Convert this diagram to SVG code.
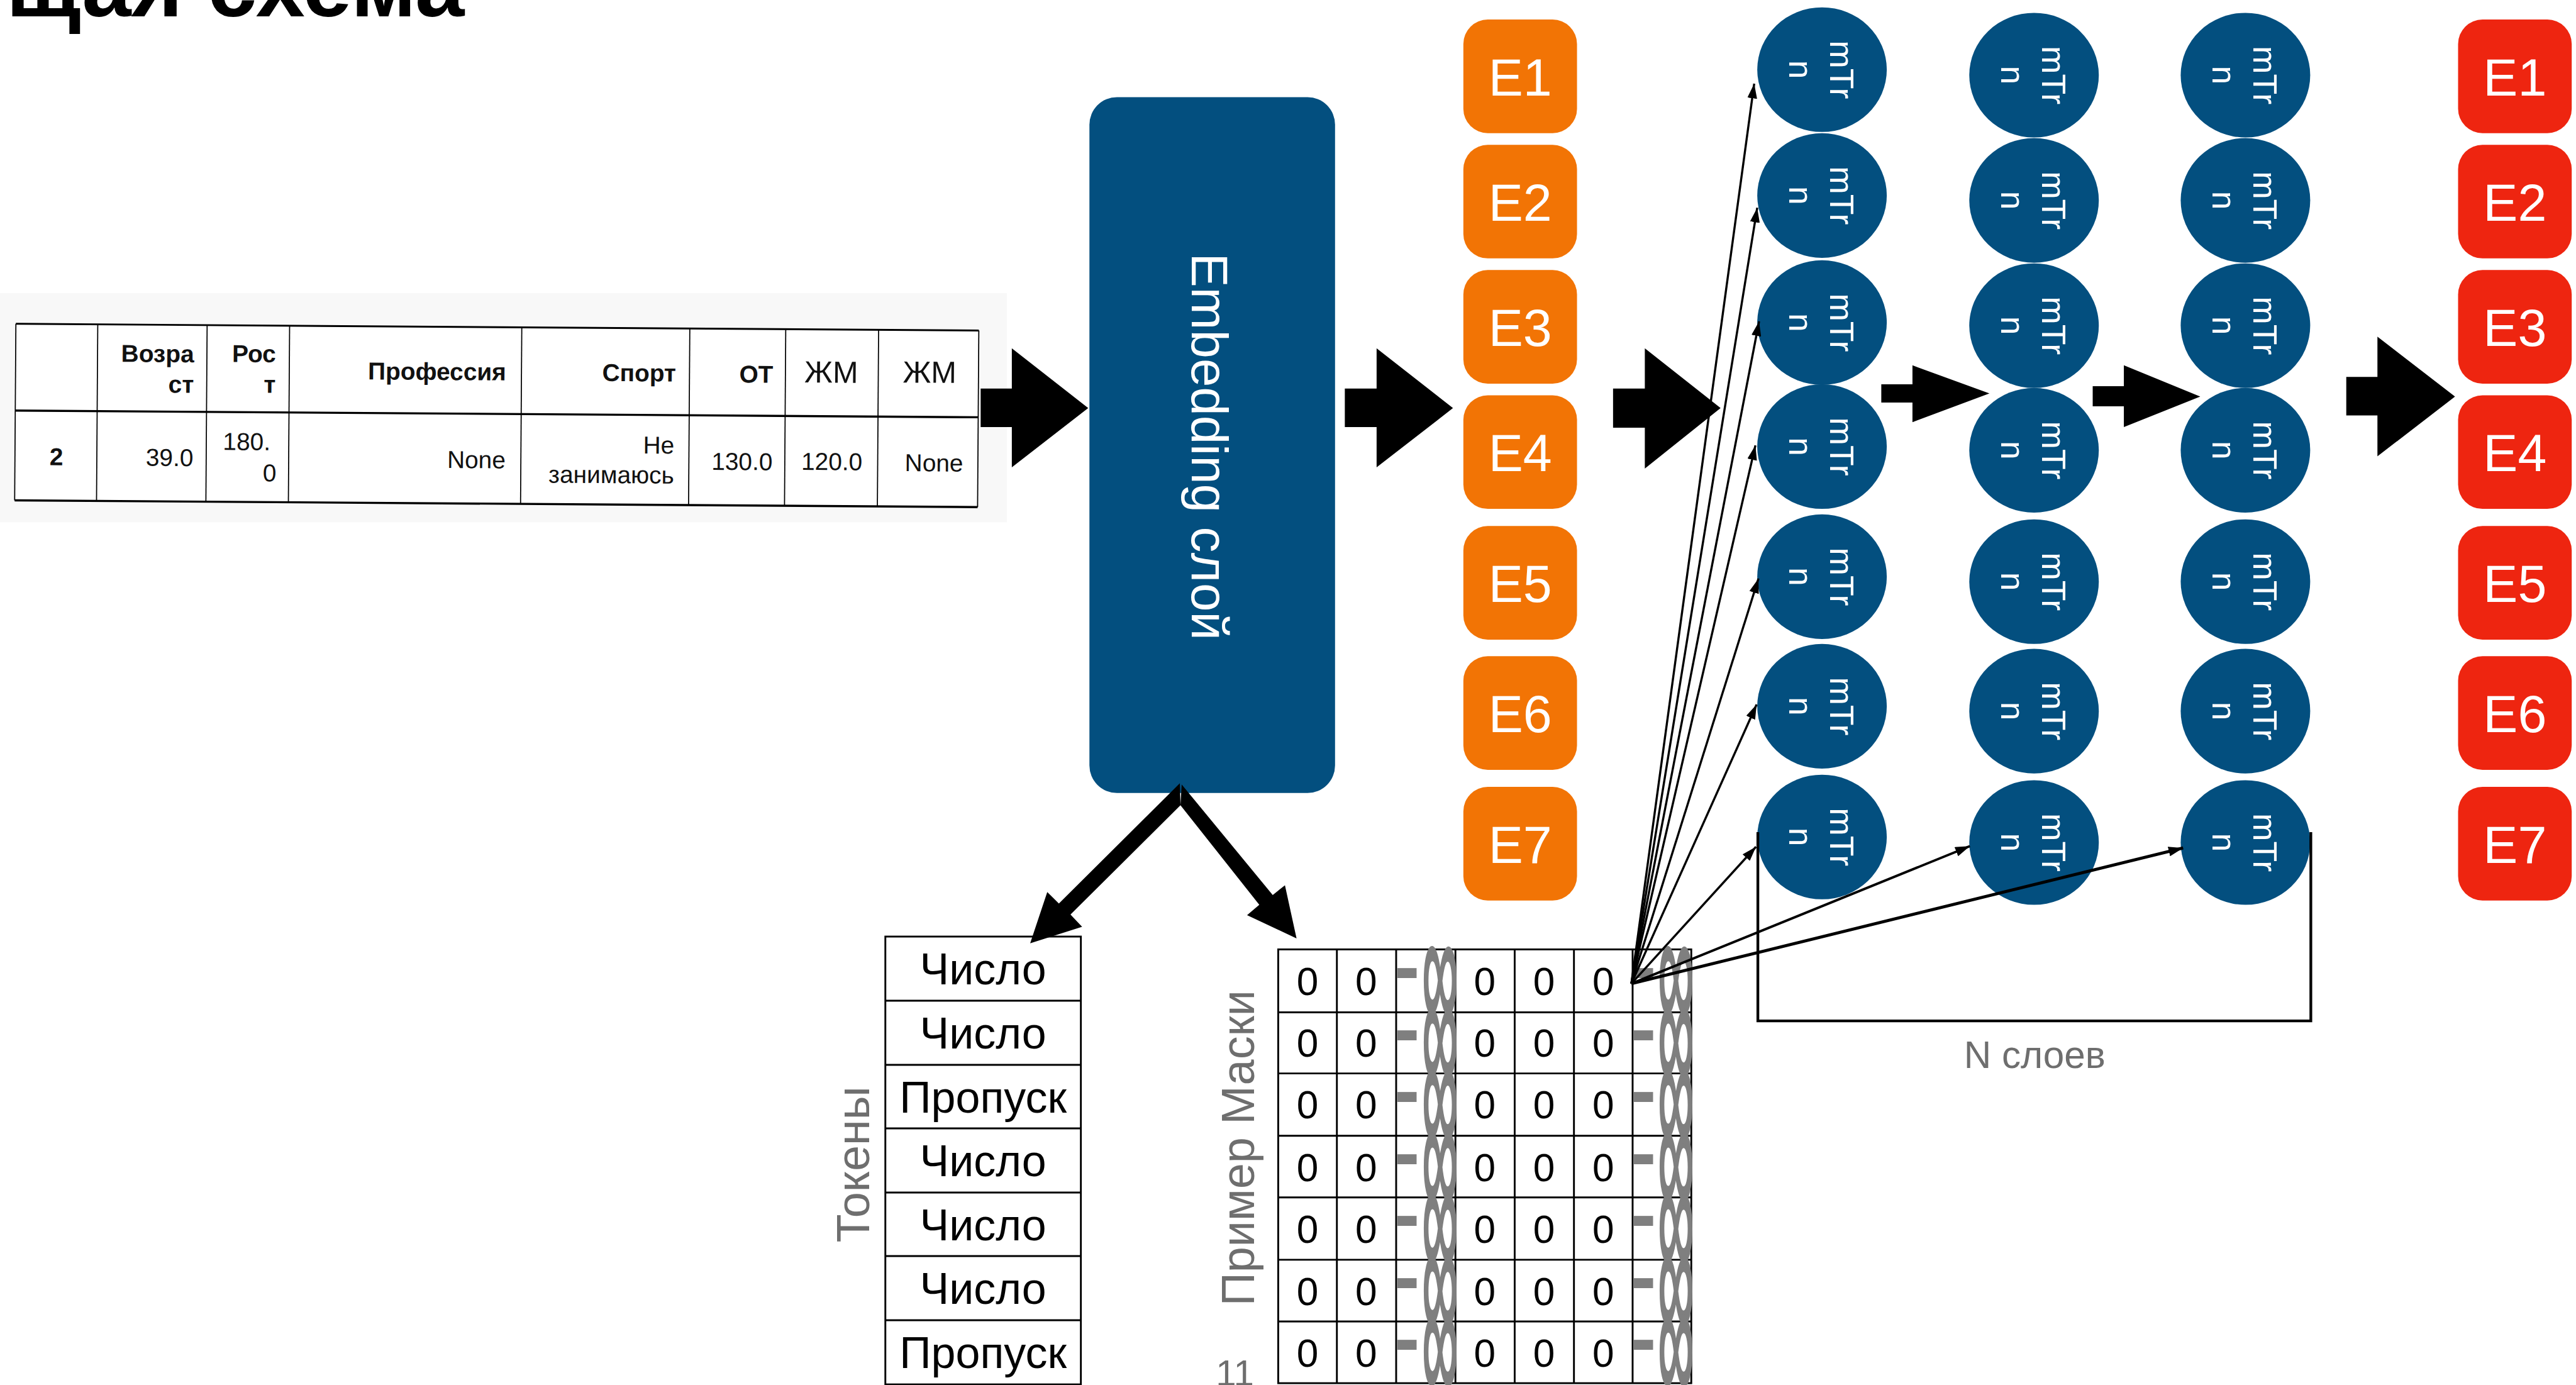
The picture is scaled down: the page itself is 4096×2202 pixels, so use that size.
<svg xmlns="http://www.w3.org/2000/svg" width="4096" height="2202" viewBox="0 0 4096 2202">
<style>
  .sans { font-family: "Liberation Sans", Arial, sans-serif; }
  .title { font-family: "Liberation Sans", Arial, sans-serif; font-weight: bold; font-size: 145px; fill: #000; }
  .th { font-family: "Liberation Sans", Arial, sans-serif; font-weight: bold; font-size: 40px; fill: #111; text-anchor: end; }
  .th2 { font-family: "Liberation Sans", Arial, sans-serif; font-size: 50px; fill: #111; text-anchor: end; }
  .td { font-family: "Liberation Sans", Arial, sans-serif; font-size: 40px; fill: #111; text-anchor: end; }
  .grid { stroke: #000; fill: none; }
  .blue { fill: #034F7F; }
  .orange { fill: #F27405; }
  .red { fill: #EE2510; }
  .etxt { font-family: "Liberation Sans", Arial, sans-serif; font-size: 85px; fill: #fff; text-anchor: middle; }
  .tr { font-family: "Liberation Sans", Arial, sans-serif; font-size: 55px; fill: #fff; text-anchor: middle; }
  .tok { font-family: "Liberation Sans", Arial, sans-serif; font-size: 72px; fill: #000; text-anchor: middle; }
  .zero { font-family: "Liberation Sans", Arial, sans-serif; font-size: 64px; fill: #000; text-anchor: middle; }
  .dash { font-family: "Liberation Sans", Arial, sans-serif; font-size: 130px; fill: #7F7F7F; }
  .inf { font-family: "Liberation Sans", Arial, sans-serif; font-size: 100px; fill: #7F7F7F; stroke: #7F7F7F; stroke-width: 2.5px; text-anchor: middle; }
  .gray { font-family: "Liberation Sans", Arial, sans-serif; fill: #6E6E6E; }
  .block { fill: #000; }
  .link { stroke: #000; fill: none; marker-end: url(#tip); }
</style>
<defs>
  <marker id="tip" viewBox="0 0 10 10" refX="10" refY="5" markerWidth="24" markerHeight="16" markerUnits="userSpaceOnUse" orient="auto" preserveAspectRatio="none">
    <path d="M0,0 L10,5 L0,10 z" fill="#000"/>
  </marker>
</defs>
<rect x="0" y="0" width="4096" height="2202" fill="#fff"/>
<g transform="scale(0.97154 0.97133)">

  <!-- heading, partly outside the top edge -->
  <text id="title" class="title" x="10" y="27">щая схема</text>

  <!-- source record table (screenshot, slightly tilted) -->
  <g id="source-table">
    <rect x="0" y="480" width="1648" height="375" fill="#F8F8F8"/>
    <g transform="rotate(0.4 26 530)">
      <rect x="26" y="530" width="1576" height="289" fill="#fff"/>
      <line class="grid" x1="26" y1="530" x2="1602" y2="530" stroke-width="3"/>
      <line class="grid" x1="26" y1="672" x2="1602" y2="672" stroke-width="3.5"/>
      <line class="grid" x1="26" y1="819" x2="1602" y2="819" stroke-width="3.5"/>
      <g class="grid" stroke-width="1.8">
        <line x1="26" y1="530" x2="26" y2="819"/>
        <line x1="160" y1="530" x2="160" y2="819"/>
        <line x1="339" y1="530" x2="339" y2="819"/>
        <line x1="474" y1="530" x2="474" y2="819"/>
        <line x1="854" y1="530" x2="854" y2="819"/>
        <line x1="1129" y1="530" x2="1129" y2="819"/>
        <line x1="1286" y1="530" x2="1286" y2="819"/>
        <line x1="1438" y1="530" x2="1438" y2="819"/>
        <line x1="1602" y1="530" x2="1602" y2="819"/>
      </g>
      <text class="th" x="318" y="591">Возра</text>
      <text class="th" x="318" y="641">ст</text>
      <text class="th" x="452" y="590">Рос</text>
      <text class="th" x="452" y="640">т</text>
      <text class="th" x="829" y="617">Профессия</text>
      <text class="th" x="1107" y="617">Спорт</text>
      <text class="th" x="1266" y="618">ОТ</text>
      <text class="th2" x="1405" y="617">ЖМ</text>
      <text class="th2" x="1566" y="616">ЖМ</text>
      <text class="th" x="105" y="761">2</text>
      <text class="td" x="318" y="761">39.0</text>
      <text class="td" x="444" y="734">180.</text>
      <text class="td" x="454" y="785">0</text>
      <text class="td" x="829" y="761">None</text>
      <text class="td" x="1105" y="735">Не</text>
      <text class="td" x="1105" y="784">занимаюсь</text>
      <text class="td" x="1266" y="761">130.0</text>
      <text class="td" x="1413" y="760">120.0</text>
      <text class="td" x="1578" y="761">None</text>
    </g>
  </g>

  <!-- embedding layer -->
  <g id="embedding">
    <rect class="blue" x="1783" y="159" width="402" height="1139" rx="45" ry="45"/>
    <text class="sans" x="1984" y="764" font-size="84" fill="#fff" text-anchor="middle" transform="rotate(90 1984 731)">Embedding слой</text>
  </g>

  <!-- input embeddings -->
  <g id="emb-in">
    <g id="e-in-1"><rect class="orange" x="2395" y="32" width="186" height="186" rx="40"/><text class="etxt" x="2488" y="156">E1</text></g>
    <g id="e-in-2"><rect class="orange" x="2395" y="237" width="186" height="186" rx="40"/><text class="etxt" x="2488" y="361">E2</text></g>
    <g id="e-in-3"><rect class="orange" x="2395" y="442" width="186" height="186" rx="40"/><text class="etxt" x="2488" y="566">E3</text></g>
    <g id="e-in-4"><rect class="orange" x="2395" y="647" width="186" height="186" rx="40"/><text class="etxt" x="2488" y="771">E4</text></g>
    <g id="e-in-5"><rect class="orange" x="2395" y="861" width="186" height="186" rx="40"/><text class="etxt" x="2488" y="985">E5</text></g>
    <g id="e-in-6"><rect class="orange" x="2395" y="1074" width="186" height="186" rx="40"/><text class="etxt" x="2488" y="1198">E6</text></g>
    <g id="e-in-7"><rect class="orange" x="2395" y="1288" width="186" height="186" rx="40"/><text class="etxt" x="2488" y="1412">E7</text></g>
  </g>

  <!-- output embeddings -->
  <g id="emb-out">
    <g id="e-out-1"><rect class="red" x="4023" y="32" width="186" height="186" rx="40"/><text class="etxt" x="4116" y="156">E1</text></g>
    <g id="e-out-2"><rect class="red" x="4023" y="237" width="186" height="186" rx="40"/><text class="etxt" x="4116" y="361">E2</text></g>
    <g id="e-out-3"><rect class="red" x="4023" y="442" width="186" height="186" rx="40"/><text class="etxt" x="4116" y="566">E3</text></g>
    <g id="e-out-4"><rect class="red" x="4023" y="647" width="186" height="186" rx="40"/><text class="etxt" x="4116" y="771">E4</text></g>
    <g id="e-out-5"><rect class="red" x="4023" y="861" width="186" height="186" rx="40"/><text class="etxt" x="4116" y="985">E5</text></g>
    <g id="e-out-6"><rect class="red" x="4023" y="1074" width="186" height="186" rx="40"/><text class="etxt" x="4116" y="1198">E6</text></g>
    <g id="e-out-7"><rect class="red" x="4023" y="1288" width="186" height="186" rx="40"/><text class="etxt" x="4116" y="1412">E7</text></g>
  </g>

  <!-- transformer layers: three columns of seven units -->
  <g id="layer-1">
    <g id="t1-1"><ellipse class="blue" cx="2982" cy="114" rx="106" ry="102"/><text class="tr" transform="rotate(90 2982 114)"><tspan x="2982" y="101">mTr</tspan><tspan x="2982" y="168">n</tspan></text></g>
    <g id="t1-2"><ellipse class="blue" cx="2982" cy="320" rx="106" ry="102"/><text class="tr" transform="rotate(90 2982 320)"><tspan x="2982" y="307">mTr</tspan><tspan x="2982" y="374">n</tspan></text></g>
    <g id="t1-3"><ellipse class="blue" cx="2982" cy="528" rx="106" ry="102"/><text class="tr" transform="rotate(90 2982 528)"><tspan x="2982" y="515">mTr</tspan><tspan x="2982" y="582">n</tspan></text></g>
    <g id="t1-4"><ellipse class="blue" cx="2982" cy="731" rx="106" ry="102"/><text class="tr" transform="rotate(90 2982 731)"><tspan x="2982" y="718">mTr</tspan><tspan x="2982" y="785">n</tspan></text></g>
    <g id="t1-5"><ellipse class="blue" cx="2982" cy="944" rx="106" ry="102"/><text class="tr" transform="rotate(90 2982 944)"><tspan x="2982" y="931">mTr</tspan><tspan x="2982" y="998">n</tspan></text></g>
    <g id="t1-6"><ellipse class="blue" cx="2982" cy="1156" rx="106" ry="102"/><text class="tr" transform="rotate(90 2982 1156)"><tspan x="2982" y="1143">mTr</tspan><tspan x="2982" y="1210">n</tspan></text></g>
    <g id="t1-7"><ellipse class="blue" cx="2982" cy="1370" rx="106" ry="102"/><text class="tr" transform="rotate(90 2982 1370)"><tspan x="2982" y="1357">mTr</tspan><tspan x="2982" y="1424">n</tspan></text></g>
  </g>
  <g id="layer-2">
    <g id="t2-1"><ellipse class="blue" cx="3329" cy="123" rx="106" ry="102"/><text class="tr" transform="rotate(90 3329 123)"><tspan x="3329" y="110">mTr</tspan><tspan x="3329" y="177">n</tspan></text></g>
    <g id="t2-2"><ellipse class="blue" cx="3329" cy="328" rx="106" ry="102"/><text class="tr" transform="rotate(90 3329 328)"><tspan x="3329" y="315">mTr</tspan><tspan x="3329" y="382">n</tspan></text></g>
    <g id="t2-3"><ellipse class="blue" cx="3329" cy="533" rx="106" ry="102"/><text class="tr" transform="rotate(90 3329 533)"><tspan x="3329" y="520">mTr</tspan><tspan x="3329" y="587">n</tspan></text></g>
    <g id="t2-4"><ellipse class="blue" cx="3329" cy="737" rx="106" ry="102"/><text class="tr" transform="rotate(90 3329 737)"><tspan x="3329" y="724">mTr</tspan><tspan x="3329" y="791">n</tspan></text></g>
    <g id="t2-5"><ellipse class="blue" cx="3329" cy="952" rx="106" ry="102"/><text class="tr" transform="rotate(90 3329 952)"><tspan x="3329" y="939">mTr</tspan><tspan x="3329" y="1006">n</tspan></text></g>
    <g id="t2-6"><ellipse class="blue" cx="3329" cy="1164" rx="106" ry="102"/><text class="tr" transform="rotate(90 3329 1164)"><tspan x="3329" y="1151">mTr</tspan><tspan x="3329" y="1218">n</tspan></text></g>
    <g id="t2-7"><ellipse class="blue" cx="3329" cy="1379" rx="106" ry="102"/><text class="tr" transform="rotate(90 3329 1379)"><tspan x="3329" y="1366">mTr</tspan><tspan x="3329" y="1433">n</tspan></text></g>
  </g>
  <g id="layer-3">
    <g id="t3-1"><ellipse class="blue" cx="3675" cy="123" rx="106" ry="102"/><text class="tr" transform="rotate(90 3675 123)"><tspan x="3675" y="110">mTr</tspan><tspan x="3675" y="177">n</tspan></text></g>
    <g id="t3-2"><ellipse class="blue" cx="3675" cy="328" rx="106" ry="102"/><text class="tr" transform="rotate(90 3675 328)"><tspan x="3675" y="315">mTr</tspan><tspan x="3675" y="382">n</tspan></text></g>
    <g id="t3-3"><ellipse class="blue" cx="3675" cy="533" rx="106" ry="102"/><text class="tr" transform="rotate(90 3675 533)"><tspan x="3675" y="520">mTr</tspan><tspan x="3675" y="587">n</tspan></text></g>
    <g id="t3-4"><ellipse class="blue" cx="3675" cy="737" rx="106" ry="102"/><text class="tr" transform="rotate(90 3675 737)"><tspan x="3675" y="724">mTr</tspan><tspan x="3675" y="791">n</tspan></text></g>
    <g id="t3-5"><ellipse class="blue" cx="3675" cy="952" rx="106" ry="102"/><text class="tr" transform="rotate(90 3675 952)"><tspan x="3675" y="939">mTr</tspan><tspan x="3675" y="1006">n</tspan></text></g>
    <g id="t3-6"><ellipse class="blue" cx="3675" cy="1164" rx="106" ry="102"/><text class="tr" transform="rotate(90 3675 1164)"><tspan x="3675" y="1151">mTr</tspan><tspan x="3675" y="1218">n</tspan></text></g>
    <g id="t3-7"><ellipse class="blue" cx="3675" cy="1379" rx="106" ry="102"/><text class="tr" transform="rotate(90 3675 1379)"><tspan x="3675" y="1366">mTr</tspan><tspan x="3675" y="1433">n</tspan></text></g>
  </g>

  <!-- "N layers" bracket and caption -->
  <g id="n-layers">
    <path d="M2877,1362 V1671 H3782 V1362" fill="none" stroke="#000" stroke-width="4.5"/>
    <text class="gray" x="3330" y="1748" font-size="62" text-anchor="middle">N слоев</text>
  </g>

  <!-- token types -->
  <g id="tokens">
    <text class="gray" x="1423" y="1906" font-size="76" text-anchor="middle" transform="rotate(-90 1423 1906)">Токены</text>
    <rect class="grid" x="1449" y="1533" width="320" height="733" stroke-width="3"/>
    <g class="grid" stroke-width="3">
      <line x1="1449" y1="1638" x2="1769" y2="1638"/>
      <line x1="1449" y1="1743" x2="1769" y2="1743"/>
      <line x1="1449" y1="1847" x2="1769" y2="1847"/>
      <line x1="1449" y1="1952" x2="1769" y2="1952"/>
      <line x1="1449" y1="2056" x2="1769" y2="2056"/>
      <line x1="1449" y1="2161" x2="1769" y2="2161"/>
    </g>
    <text class="tok" x="1609" y="1611">Число</text>
    <text class="tok" x="1609" y="1716">Число</text>
    <text class="tok" x="1609" y="1821">Пропуск</text>
    <text class="tok" x="1609" y="1925">Число</text>
    <text class="tok" x="1609" y="2030">Число</text>
    <text class="tok" x="1609" y="2134">Число</text>
    <text class="tok" x="1609" y="2239">Пропуск</text>
  </g>

  <!-- attention mask example -->
  <g id="mask">
    <text class="gray" x="2052" y="1879" font-size="76" text-anchor="middle" transform="rotate(-90 2052 1879)">Пример Маски</text>
    <g class="grid" stroke-width="3">
      <rect x="2092" y="1554" width="676" height="710"/>
      <line x1="2092" y1="1657" x2="2768" y2="1657"/>
      <line x1="2092" y1="1757" x2="2768" y2="1757"/>
      <line x1="2092" y1="1859" x2="2768" y2="1859"/>
      <line x1="2092" y1="1960" x2="2768" y2="1960"/>
      <line x1="2092" y1="2062" x2="2768" y2="2062"/>
      <line x1="2092" y1="2163" x2="2768" y2="2163"/>
      <line x1="2188" y1="1554" x2="2188" y2="2264"/>
      <line x1="2285" y1="1554" x2="2285" y2="2264"/>
      <line x1="2382" y1="1554" x2="2382" y2="2264"/>
      <line x1="2479" y1="1554" x2="2479" y2="2264"/>
      <line x1="2576" y1="1554" x2="2576" y2="2264"/>
      <line x1="2672" y1="1554" x2="2672" y2="2264"/>
    </g>
    <!-- zeros: columns 1,2,4,5,6 -->
    <g class="zero">
      <text x="2140" y="1629">0</text><text x="2236" y="1629">0</text><text x="2430" y="1629">0</text><text x="2527" y="1629">0</text><text x="2624" y="1629">0</text>
      <text x="2140" y="1730">0</text><text x="2236" y="1730">0</text><text x="2430" y="1730">0</text><text x="2527" y="1730">0</text><text x="2624" y="1730">0</text>
      <text x="2140" y="1831">0</text><text x="2236" y="1831">0</text><text x="2430" y="1831">0</text><text x="2527" y="1831">0</text><text x="2624" y="1831">0</text>
      <text x="2140" y="1933">0</text><text x="2236" y="1933">0</text><text x="2430" y="1933">0</text><text x="2527" y="1933">0</text><text x="2624" y="1933">0</text>
      <text x="2140" y="2034">0</text><text x="2236" y="2034">0</text><text x="2430" y="2034">0</text><text x="2527" y="2034">0</text><text x="2624" y="2034">0</text>
      <text x="2140" y="2136">0</text><text x="2236" y="2136">0</text><text x="2430" y="2136">0</text><text x="2527" y="2136">0</text><text x="2624" y="2136">0</text>
      <text x="2140" y="2237">0</text><text x="2236" y="2237">0</text><text x="2430" y="2237">0</text><text x="2527" y="2237">0</text><text x="2624" y="2237">0</text>
    </g>
    <!-- masked cells: squeezed "-∞" in columns 3 and 7 -->
    <g id="neg-inf">
      <text class="dash" transform="translate(2285 1648) scale(1 1.6)" x="-4" y="0">-</text>
      <text class="inf" transform="translate(2357 1605) scale(0.82 2.8)" x="0" y="29">∞</text>
      <text class="dash" transform="translate(2672 1648) scale(1 1.6)" x="-4" y="0">-</text>
      <text class="inf" transform="translate(2743 1605) scale(0.82 2.8)" x="0" y="29">∞</text>

      <text class="dash" transform="translate(2285 1750) scale(1 1.6)" x="-4" y="0">-</text>
      <text class="inf" transform="translate(2357 1707) scale(0.82 2.8)" x="0" y="29">∞</text>
      <text class="dash" transform="translate(2672 1750) scale(1 1.6)" x="-4" y="0">-</text>
      <text class="inf" transform="translate(2743 1707) scale(0.82 2.8)" x="0" y="29">∞</text>

      <text class="dash" transform="translate(2285 1851) scale(1 1.6)" x="-4" y="0">-</text>
      <text class="inf" transform="translate(2357 1808) scale(0.82 2.8)" x="0" y="29">∞</text>
      <text class="dash" transform="translate(2672 1851) scale(1 1.6)" x="-4" y="0">-</text>
      <text class="inf" transform="translate(2743 1808) scale(0.82 2.8)" x="0" y="29">∞</text>

      <text class="dash" transform="translate(2285 1953) scale(1 1.6)" x="-4" y="0">-</text>
      <text class="inf" transform="translate(2357 1910) scale(0.82 2.8)" x="0" y="29">∞</text>
      <text class="dash" transform="translate(2672 1953) scale(1 1.6)" x="-4" y="0">-</text>
      <text class="inf" transform="translate(2743 1910) scale(0.82 2.8)" x="0" y="29">∞</text>

      <text class="dash" transform="translate(2285 2054) scale(1 1.6)" x="-4" y="0">-</text>
      <text class="inf" transform="translate(2357 2011) scale(0.82 2.8)" x="0" y="29">∞</text>
      <text class="dash" transform="translate(2672 2054) scale(1 1.6)" x="-4" y="0">-</text>
      <text class="inf" transform="translate(2743 2011) scale(0.82 2.8)" x="0" y="29">∞</text>

      <text class="dash" transform="translate(2285 2156) scale(1 1.6)" x="-4" y="0">-</text>
      <text class="inf" transform="translate(2357 2113) scale(0.82 2.8)" x="0" y="29">∞</text>
      <text class="dash" transform="translate(2672 2156) scale(1 1.6)" x="-4" y="0">-</text>
      <text class="inf" transform="translate(2743 2113) scale(0.82 2.8)" x="0" y="29">∞</text>

      <text class="dash" transform="translate(2285 2257) scale(1 1.6)" x="-4" y="0">-</text>
      <text class="inf" transform="translate(2357 2213) scale(0.82 2.8)" x="0" y="29">∞</text>
      <text class="dash" transform="translate(2672 2257) scale(1 1.6)" x="-4" y="0">-</text>
      <text class="inf" transform="translate(2743 2213) scale(0.82 2.8)" x="0" y="29">∞</text>
    </g>
  </g>

  <!-- slide number -->
  <text id="page-no" class="gray" x="1990" y="2268" font-size="60" fill="#7F7F7F">11</text>

  <!-- connectors -->
  <g id="connectors">
    <polygon class="block" points="1605,636 1656,636 1656,570 1781,668 1656,765 1656,699 1605,699"/>
    <polygon class="block" points="2201,636 2253,636 2253,570 2378,668 2253,765 2253,699 2201,699"/>
    <polygon class="block" points="2640,636 2692,636 2692,570 2816,668 2692,767 2692,700 2640,700"/>
    <polygon class="block" points="3079,629 3130,629 3130,598 3256,644 3130,691 3130,659 3079,659"/>
    <polygon class="block" points="3425,632 3476,632 3476,598 3601,649 3476,699 3476,665 3425,665"/>
    <polygon class="block" points="3840,617 3891,617 3891,551 4018,649 3891,747 3891,680 3840,680"/>
    <polygon class="block" points="1931,1282 1733,1479 1714,1460 1686,1544 1771,1517 1752,1497 1932,1318"/>
    <polygon class="block" points="1934,1284 2083,1465 2103,1449 2122,1536 2041,1498 2061,1481 1932,1318"/>
    <g class="link" stroke-width="3.5">
      <line x1="2670" y1="1610" x2="2871" y2="137"/>
      <line x1="2670" y1="1610" x2="2876" y2="340"/>
      <line x1="2670" y1="1610" x2="2879" y2="526"/>
      <line x1="2670" y1="1610" x2="2873" y2="729"/>
      <line x1="2670" y1="1610" x2="2878" y2="947"/>
      <line x1="2670" y1="1610" x2="2875" y2="1153"/>
      <line x1="2670" y1="1610" x2="2874" y2="1386"/>
      <line x1="2670" y1="1610" x2="3224" y2="1385" stroke-width="4"/>
      <line x1="2670" y1="1610" x2="3573" y2="1388" stroke-width="5"/>
    </g>
  </g>
</g>
</svg>
